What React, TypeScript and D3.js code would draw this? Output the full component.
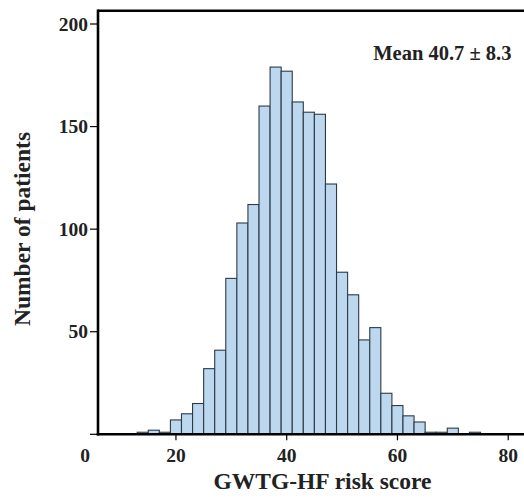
import React from "react";
import * as d3 from "d3";

// Histogram bins (left edge, right edge) and counts
const binStarts = [13, 15, 17, 19, 21, 23, 25, 27, 29, 31, 33, 35, 37, 39, 41, 43, 45, 47, 49, 51, 53, 55, 57, 59, 61, 63, 65, 67, 69, 71, 73];
const binWidth = 2;
const counts = [1, 2, 1, 7, 10, 15, 32, 41, 76, 103, 112, 160, 179, 177, 162, 157, 156, 122, 79, 68, 46, 52, 20, 14, 9, 6, 1, 1, 3, 0, 1];
const xTicks = [20, 40, 60, 80];
const yTicks = [50, 100, 150, 200];
const xTitle = "GWTG-HF risk score";
const yTitle = "Number of patients";
const note = "Mean 40.7 \u00b1 8.3";

const W = 524;
const H = 499;
const FONT = "'Liberation Serif', 'Times New Roman', serif";

export default function App() {
  const x = d3.scaleLinear().domain([0, 80]).range([65.2, 508.2]);
  const y = d3.scaleLinear().domain([0, 200]).range([434.3, 24]);
  const axisX = 98;
  const axisBottom = y(0);
  const topY = 10.7;

  return (
    <div style={{ position: "fixed", left: 0, top: 0 }}>
      <svg width={W} height={H} style={{ display: "block", background: "#fff" }}>
        {/* bars */}
        {binStarts.map((s, i) =>
          counts[i] > 0 ? (
            <rect
              key={i}
              x={x(s)}
              y={y(counts[i])}
              width={x(s + binWidth) - x(s)}
              height={axisBottom - y(counts[i])}
              fill="#bcd7ee"
              stroke="#2c3a48"
              strokeWidth={1.1}
            />
          ) : null
        )}
        {/* frame */}
        <line x1={axisX} x2={W} y1={topY} y2={topY} stroke="#000" strokeWidth={2.6} />
        <line x1={axisX} x2={axisX} y1={topY - 1.3} y2={axisBottom + 1.3} stroke="#000" strokeWidth={2.6} />
        <line x1={axisX - 1.3} x2={W} y1={axisBottom} y2={axisBottom} stroke="#000" strokeWidth={2.6} />
        {/* y ticks */}
        {[0, ...yTicks].map((t) => (
          <line key={"yt" + t} x1={axisX - 8} x2={axisX} y1={y(t)} y2={y(t)} stroke="#000" strokeWidth={1.2} />
        ))}
        {yTicks.map((t) => (
          <text
            key={"yl" + t}
            x={88}
            y={y(t)}
            dy="0.34em"
            textAnchor="end"
            fontFamily={FONT}
            fontWeight="bold"
            fontSize={19.5}
            fill="#222"
          >
            {t}
          </text>
        ))}
        {/* x ticks */}
        {xTicks.map((t) => (
          <g key={"xt" + t}>
            <line x1={x(t)} x2={x(t)} y1={axisBottom} y2={axisBottom + 6} stroke="#000" strokeWidth={1.2} />
            <text
              x={x(t)}
              y={461.5}
              textAnchor="middle"
              fontFamily={FONT}
              fontWeight="bold"
              fontSize={19.5}
              fill="#222"
            >
              {t}
            </text>
          </g>
        ))}
        <text x={85} y={461.5} textAnchor="middle" fontFamily={FONT} fontWeight="bold" fontSize={19.5} fill="#222">
          0
        </text>
        {/* titles */}
        <text x={322.5} y={489} textAnchor="middle" fontFamily={FONT} fontWeight="bold" fontSize={23.5} fill="#222">
          {xTitle}
        </text>
        <text
          transform={`translate(30,229) rotate(-90)`}
          textAnchor="middle"
          fontFamily={FONT}
          fontWeight="bold"
          fontSize={23.5}
          fill="#222"
        >
          {yTitle}
        </text>
        <text x={511.5} y={60} textAnchor="end" fontFamily={FONT} fontWeight="bold" fontSize={20.5} fill="#222">
          {note}
        </text>
      </svg>
    </div>
  );
}
